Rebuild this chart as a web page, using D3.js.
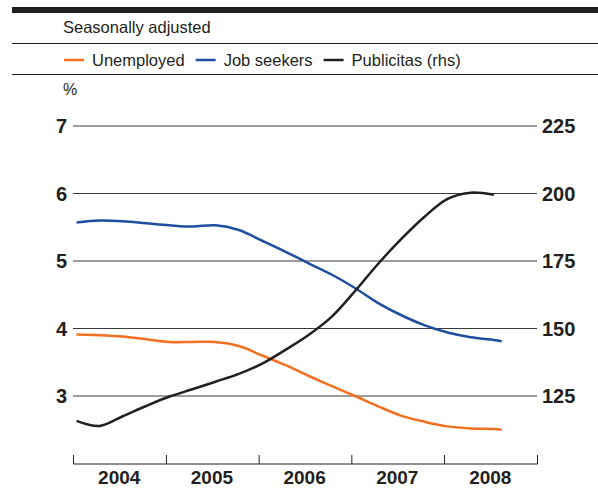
<!DOCTYPE html>
<html>
<head>
<meta charset="utf-8">
<script src="https://cdn.jsdelivr.net/npm/d3@7"></script>
<style>
  body { margin: 0; background: #fff; }
  text { font-family: "Liberation Sans", "DejaVu Sans", sans-serif; fill: #231f20; }
</style>
</head>
<body>
<svg id="chart" width="598" height="488"></svg>
<script>
// quarterly readings, mid-month dates
const dates = ['2004-01-15', '2004-04-15', '2004-07-15', '2004-10-15',
  '2005-01-15', '2005-04-15', '2005-07-15', '2005-10-15',
  '2006-01-15', '2006-04-15', '2006-07-15', '2006-10-15',
  '2007-01-15', '2007-04-15', '2007-07-15', '2007-10-15',
  '2008-01-15', '2008-04-15', '2008-07-15', '2008-08-15']
const unemployed = [3.91, 3.90, 3.88, 3.84, 3.80, 3.80, 3.80, 3.74, 3.60, 3.46,
  3.30, 3.15, 3.00, 2.85, 2.71, 2.62, 2.55, 2.52, 2.51, 2.50]
const jobSeekers = [5.57, 5.60, 5.59, 5.56, 5.53, 5.51, 5.53, 5.46, 5.30, 5.14,
  4.97, 4.80, 4.60, 4.38, 4.20, 4.05, 3.94, 3.87, 3.83, 3.81]
// rhs index
const publicitas = [115.8, 113.9, 117.5, 121.3, 124.8, 127.5, 130.3, 133.2, 137, 142,
  147.5, 154.3, 163.8, 173.8, 183, 191.3, 198, 200.3, 199.5, null]

const leftTicks = [3, 4, 5, 6, 7]
const rightTicks = [125, 150, 175, 200, 225]
const years = [2004, 2005, 2006, 2007, 2008]

const legend = [
  { label: 'Unemployed', color: '#f37021' },
  { label: 'Job seekers', color: '#1f4e9f' },
  { label: 'Publicitas (rhs)', color: '#231f20' },
]

const svg = d3.select('#chart')
const parse = d3.timeParse('%Y-%m-%d')
const ds = dates.map(parse)

const x = d3.scaleTime()
  .domain([new Date(2004, 0, 1), new Date(2009, 0, 1)])
  .range([73, 537])
const y = d3.scaleLinear().domain([2, 7]).range([463.5, 126])
const yR = d3.scaleLinear().domain([100, 225]).range([463.5, 126])

// header rules
svg.append('rect').attr('x', 12).attr('y', 7).attr('width', 586).attr('height', 6).attr('fill', '#231f20')
svg.append('line').attr('x1', 12).attr('x2', 598).attr('y1', 43.5).attr('y2', 43.5)
  .attr('stroke', '#231f20').attr('stroke-width', 1)
svg.append('line').attr('x1', 12).attr('x2', 598).attr('y1', 74.5).attr('y2', 74.5)
  .attr('stroke', '#231f20').attr('stroke-width', 1)

svg.append('text').attr('x', 63).attr('y', 33).style('font-size', '16.5px').text('Seasonally adjusted')

// legend
let lx = 64
legend.forEach((d) => {
  svg.append('line').attr('x1', lx).attr('x2', lx + 20).attr('y1', 60).attr('y2', 60)
    .attr('stroke', d.color).attr('stroke-width', 2.5)
  const t = svg.append('text').attr('x', lx + 28).attr('y', 66).style('font-size', '16.5px').text(d.label)
  lx += 28 + t.node().getComputedTextLength() + 11
})

svg.append('text').attr('x', 63).attr('y', 95).style('font-size', '16px').text('%')

// gridlines
svg.append('g').selectAll('line').data(leftTicks).join('line')
  .attr('x1', 73).attr('x2', 537)
  .attr('y1', (d) => y(d)).attr('y2', (d) => y(d))
  .attr('stroke', '#3a3a3a').attr('stroke-width', 1)

svg.append('g').selectAll('text').data(leftTicks).join('text')
  .attr('x', 67).attr('y', (d) => y(d)).attr('dy', '0.36em')
  .attr('text-anchor', 'end')
  .style('font-size', '20px').style('font-weight', 'bold')
  .text((d) => d)

svg.append('g').selectAll('text').data(rightTicks).join('text')
  .attr('x', 542).attr('y', (d) => yR(d)).attr('dy', '0.36em')
  .style('font-size', '20px').style('font-weight', 'bold')
  .text((d) => d)

// x axis
const xAxis = svg.append('g').attr('transform', 'translate(0,464)')
  .call(d3.axisBottom(x)
    .tickValues(d3.range(2004, 2010).map((yr) => new Date(yr, 0, 1)))
    .tickSize(-9)
    .tickFormat(''))
xAxis.select('.domain').attr('stroke', '#231f20').attr('d', 'M73.5,0H537.5')
xAxis.selectAll('.tick line').attr('stroke', '#231f20')

svg.append('g').selectAll('text').data(years).join('text')
  .attr('x', (d) => x(new Date(d, 6, 1)))
  .attr('y', 484)
  .attr('text-anchor', 'middle')
  .style('font-size', '19px').style('font-weight', 'bold')
  .text((d) => d)

// series
const lineL = d3.line()
  .x((d) => x(d[0])).y((d) => y(d[1]))
  .curve(d3.curveCatmullRom)
const lineR = d3.line()
  .x((d) => x(d[0])).y((d) => yR(d[1]))
  .curve(d3.curveCatmullRom)

const pairs = (vals) => ds.map((d, i) => [d, vals[i]]).filter((p) => p[1] != null)

svg.append('path').datum(pairs(unemployed)).attr('d', lineL)
  .attr('fill', 'none').attr('stroke', legend[0].color).attr('stroke-width', 2.5)
svg.append('path').datum(pairs(jobSeekers)).attr('d', lineL)
  .attr('fill', 'none').attr('stroke', legend[1].color).attr('stroke-width', 2.5)
svg.append('path').datum(pairs(publicitas)).attr('d', lineR)
  .attr('fill', 'none').attr('stroke', legend[2].color).attr('stroke-width', 2.5)
</script>
</body>
</html>
